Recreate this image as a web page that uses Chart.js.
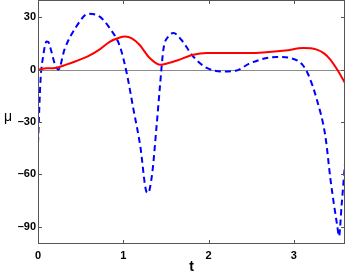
<!DOCTYPE html>
<html>
<head>
<meta charset="utf-8">
<script src="https://cdn.jsdelivr.net/npm/chart.js@4"></script>
<style>
  html, body { margin: 0; padding: 0; background: #fff; }
  #wrap { width: 346px; height: 277px; }
</style>
</head>
<body>
<div id="wrap"><canvas id="muChart" width="346" height="277"></canvas></div>
<script>
// red solid curve
const tRed = [0, 0.1, 0.2, 0.33, 0.45, 0.59, 0.72, 0.84, 0.96, 1.02, 1.1, 1.19, 1.31, 1.43, 1.53, 1.63, 1.82, 1.98, 2.25, 2.5, 2.64, 2.9, 3.11, 3.2, 3.27, 3.35, 3.43, 3.51, 3.6];
const muRed = [0, 0.8, 1, 2.9, 5, 7.8, 11.5, 16, 18.5, 19, 18, 14.3, 6.7, 2.9, 3.8, 5.3, 8.6, 9.6, 9.6, 9.6, 9.9, 11, 12.4, 12.3, 11.5, 9.5, 5.7, 0, -7.6];

// blue dashed curve
const tBlue = [0, 0.03, 0.06, 0.1, 0.12, 0.14, 0.2, 0.24, 0.31, 0.45, 0.59, 0.72, 0.84, 0.96, 1.04, 1.12, 1.2, 1.27, 1.29, 1.34, 1.39, 1.43, 1.47, 1.53, 1.59, 1.68, 1.82, 1.98, 2.17, 2.33, 2.49, 2.8, 2.96, 3.1, 3.17, 3.27, 3.37, 3.43, 3.51, 3.53, 3.56, 3.6];
const muBlue = [-42, -5.7, 7.6, 16.2, 16, 13.4, 2.9, 0, 11.5, 24.8, 32.1, 30.6, 23.9, 13.4, -1.9, -22.9, -44, -69.8, -70.7, -59.2, -32.5, -9.6, 11.5, 19.1, 21, 17.2, 7.6, 1, -1, -0.4, 3.8, 7.3, 6.7, 2.9, -2.9, -17.2, -38.2, -63, -89.9, -95.6, -78, -54];

const xTicks = [0, 1, 2, 3];
const yTicks = [-90, -60, -30, 0, 30];

const toPoints = (xs, ys) => xs.map((x, i) => ({ x: x, y: ys[i] }));

const frame = {
    id: "frame",
    beforeDatasetsDraw(chart) {
        const { ctx, chartArea: a, scales } = chart;
        const y0 = scales.y.getPixelForValue(0);
        ctx.save();
        ctx.strokeStyle = "#8c8c8c";
        ctx.lineWidth = 1;
        ctx.beginPath();
        ctx.moveTo(a.left, Math.round(y0) + 0.5);
        ctx.lineTo(a.right, Math.round(y0) + 0.5);
        ctx.stroke();
        ctx.restore();
    },
    afterDraw(chart) {
        const { ctx, chartArea: a, scales } = chart;
        ctx.save();
        ctx.strokeStyle = "#555";
        ctx.lineWidth = 1;
        ctx.strokeRect(a.left + 0.5, a.top + 0.5, a.right - a.left - 1, a.bottom - a.top - 1);
        ctx.beginPath();
        xTicks.forEach((v) => {
            const px = Math.round(scales.x.getPixelForValue(v)) + 0.5;
            ctx.moveTo(px, a.bottom);
            ctx.lineTo(px, a.bottom - 4);
            ctx.moveTo(px, a.top);
            ctx.lineTo(px, a.top + 4);
        });
        yTicks.forEach((v) => {
            const py = Math.round(scales.y.getPixelForValue(v)) + 0.5;
            ctx.moveTo(a.left, py);
            ctx.lineTo(a.left + 4, py);
            ctx.moveTo(a.right, py);
            ctx.lineTo(a.right - 4, py);
        });
        ctx.stroke();
        // y axis label
        ctx.fillStyle = "#000";
        ctx.font = "14px 'Liberation Sans', Arial, sans-serif";
        ctx.textAlign = "center";
        ctx.textBaseline = "middle";
        ctx.fillText("μ", 8, 117);
        ctx.restore();
    },
};

new Chart(document.getElementById("muChart"), {
    type: "line",
    data: {
        datasets: [
            {
                label: "red",
                data: toPoints(tRed, muRed),
                borderColor: "#ff0000",
                borderWidth: 2,
                pointRadius: 0,
                fill: false,
                cubicInterpolationMode: "monotone",
            },
            {
                label: "blue",
                data: toPoints(tBlue, muBlue),
                borderColor: "#0000ff",
                borderWidth: 2,
                borderDash: [6, 4],
                pointRadius: 0,
                fill: false,
                cubicInterpolationMode: "monotone",
            },
        ],
    },
    options: {
        responsive: false,
        animation: false,
        layout: { padding: { top: 0, right: 1, left: 0, bottom: 0 } },
        plugins: {
            legend: { display: false },
            tooltip: { enabled: false },
        },
        scales: {
            x: {
                type: "linear",
                min: 0,
                max: 3.6,
                grid: { display: false, drawTicks: false },
                border: { display: false },
                afterBuildTicks: (s) => { s.ticks = xTicks.map((v) => ({ value: v })); },
                afterFit: (s) => { s.height = 33; s.paddingLeft = 0; s.paddingRight = 0; },
                ticks: {
                    color: "#000",
                    padding: 5,
                    maxRotation: 0,
                    font: { family: "'Liberation Sans', Arial", size: 11, weight: "bold" },
                    callback: (v) => String(v),
                },
                title: {
                    display: true,
                    text: "t",
                    color: "#000",
                    padding: { top: 0, bottom: 1 },
                    font: { family: "'Liberation Sans', Arial", size: 14, weight: "bold" },
                },
            },
            y: {
                min: -100,
                max: 40,
                grid: { display: false, drawTicks: false },
                border: { display: false },
                afterBuildTicks: (s) => { s.ticks = yTicks.map((v) => ({ value: v })); },
                afterFit: (s) => { s.width = 38; s.paddingTop = 0; s.paddingBottom = 0; },
                ticks: {
                    color: "#000",
                    padding: 2,
                    font: { family: "'Liberation Sans', Arial", size: 11, weight: "bold" },
                    callback: (v) => String(v).replace("-", "–"),
                },
            },
        },
    },
    plugins: [frame],
});
</script>
</body>
</html>
